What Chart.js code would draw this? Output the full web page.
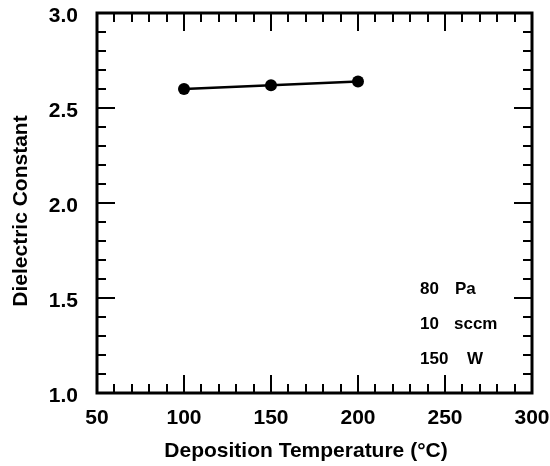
<!DOCTYPE html>
<html>
<head>
<meta charset="utf-8">
<script src="https://cdn.jsdelivr.net/npm/chart.js@4/dist/chart.umd.min.js"></script>
<style>
html,body{margin:0;padding:0;background:#fff;}
#wrap{width:550px;height:466px;position:relative;}
</style>
</head>
<body>
<div id="wrap"><canvas id="c" width="550" height="466"></canvas></div>
<script>
const temperatures = [100, 150, 200];
const dielectric = [2.60, 2.62, 2.64];
const xTickLabels = ['50', '100', '150', '200', '250', '300'];
const yTickLabels = ['1.0', '1.5', '2.0', '2.5', '3.0'];
const xTitle = 'Deposition Temperature (°C)';
const yTitle = 'Dielectric Constant';
const notes = [['80', 'Pa'], ['10', 'sccm'], ['150', 'W']];

const FONT = "'Liberation Sans', Arial, sans-serif";

function isLabel(list, v) {
  return list.some(s => Math.abs(parseFloat(s) - v) < 1e-6);
}

const frame = {
  id: 'frame',
  afterDraw(chart) {
    const ctx = chart.ctx;
    const a = chart.chartArea;
    const xs = chart.scales.x, ys = chart.scales.y;
    ctx.save();
    ctx.strokeStyle = '#000';
    ctx.lineCap = 'butt';
    ctx.lineWidth = 2;
    xs.ticks.forEach(t => {
      const px = Math.round(xs.getPixelForValue(t.value));
      const len = isLabel(xTickLabels, t.value) ? 18 : 9;
      ctx.beginPath();
      ctx.moveTo(px, a.bottom); ctx.lineTo(px, a.bottom - len);
      ctx.moveTo(px, a.top); ctx.lineTo(px, a.top + len);
      ctx.stroke();
    });
    ys.ticks.forEach(t => {
      const py = Math.round(ys.getPixelForValue(t.value));
      const len = isLabel(yTickLabels, t.value) ? 18 : 9;
      ctx.beginPath();
      ctx.moveTo(a.left, py); ctx.lineTo(a.left + len, py);
      ctx.moveTo(a.right, py); ctx.lineTo(a.right - len, py);
      ctx.stroke();
    });
    ctx.lineWidth = 3;
    ctx.strokeRect(a.left, a.top, a.right - a.left, a.bottom - a.top);
    ctx.fillStyle = '#000';
    ctx.font = "bold 21px " + FONT;
    ctx.textAlign = 'center';
    ctx.textBaseline = 'alphabetic';
    ctx.fillText(xTitle, 306, 457);
    ctx.save();
    ctx.translate(27, 211);
    ctx.rotate(-Math.PI / 2);
    ctx.fillText(yTitle, 0, 0);
    ctx.restore();
    ctx.font = "bold 17px " + FONT;
    ctx.textAlign = 'left';
    const noteY = [294, 329, 364];
    const unitX = [455, 454, 467];
    notes.forEach((n, i) => {
      ctx.fillText(n[0], 420, noteY[i]);
      ctx.fillText(n[1], unitX[i], noteY[i]);
    });
    ctx.restore();
  }
};

new Chart(document.getElementById('c'), {
  type: 'line',
  data: {
    datasets: [{
      data: temperatures.map((t, i) => ({x: t, y: dielectric[i]})),
      borderColor: '#000',
      backgroundColor: '#000',
      borderWidth: 2.5,
      pointRadius: 6,
      pointBackgroundColor: '#000',
      pointBorderWidth: 0,
      tension: 0
    }]
  },
  options: {
    responsive: false,
    animation: false,
    layout: {padding: {top: 13, right: 18, left: 0, bottom: 0}},
    plugins: {legend: {display: false}, tooltip: {enabled: false}},
    scales: {
      x: {
        type: 'linear', min: 50, max: 300,
        grid: {display: false, drawTicks: false},
        border: {display: false},
        afterFit(s) { s.height = 73; s.paddingLeft = 0; s.paddingRight = 0; },
        ticks: {
          stepSize: 10, autoSkip: false, maxRotation: 0, padding: 13,
          color: '#000',
          font: {family: FONT, size: 21, weight: 'bold'},
          callback: v => isLabel(xTickLabels, v) ? xTickLabels.find(s => Math.abs(parseFloat(s) - v) < 1e-6) : ''
        }
      },
      y: {
        min: 1.0, max: 3.0,
        grid: {display: false, drawTicks: false},
        border: {display: false},
        afterFit(s) { s.width = 97; s.paddingTop = 0; s.paddingBottom = 0; },
        ticks: {
          stepSize: 0.1, autoSkip: false, padding: 19, labelOffset: 3,
          color: '#000',
          font: {family: FONT, size: 21, weight: 'bold'},
          callback: v => isLabel(yTickLabels, v) ? yTickLabels.find(s => Math.abs(parseFloat(s) - v) < 1e-6) : ''
        }
      }
    }
  },
  plugins: [frame]
});
</script>
</body>
</html>
